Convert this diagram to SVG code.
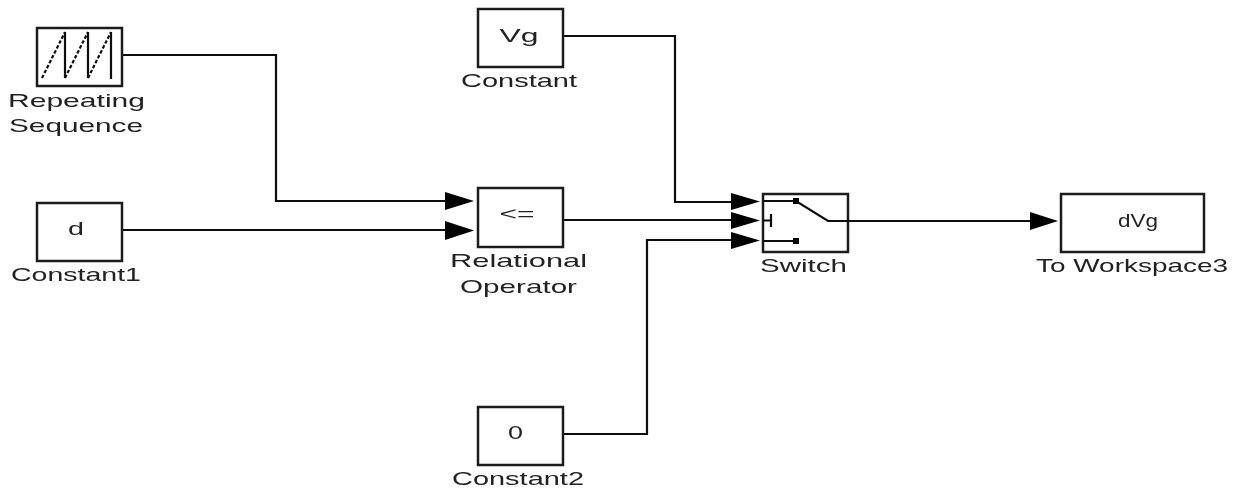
<svg xmlns="http://www.w3.org/2000/svg" width="1258" height="488" viewBox="0 0 1258 488">
<defs><filter id="soft" filterUnits="userSpaceOnUse" x="0" y="0" width="1258" height="488"><feGaussianBlur stdDeviation="0.45"/></filter></defs>
<style>
.b{fill:#fff;stroke:#1a1a1a;stroke-width:2.500}
.w{fill:none;stroke:#111;stroke-width:2.200}
.h{fill:#000;stroke:none}
text{font-family:"Liberation Sans",Arial,sans-serif;font-size:19px;fill:#222;text-anchor:middle}
.s{fill:none;stroke:#111;stroke-width:2.200}
</style>
<rect width="1258" height="488" fill="#fff"/>
<g filter="url(#soft)">
<g id="connectors">
<path class="w" d="M120 55H276V201H450"/>
<path class="w" d="M120 230H450"/>
<path class="w" d="M562 36H675V202H735"/>
<path class="w" d="M562 220H735"/>
<path class="w" d="M562 434H647V240H735"/>
<path class="w" d="M849 221H1035"/>
<path class="h" d="M445 192L474 201L445 210Z"/>
<path class="h" d="M445 221L474 230.500L445 240Z"/>
<path class="h" d="M731 193L760 201.500L731 210Z"/>
<path class="h" d="M731 212L760 220.500L731 229Z"/>
<path class="h" d="M731 232L760 240.500L731 249Z"/>
<path class="h" d="M1030 212L1058 221L1030 230Z"/>
</g>
<g id="repeating-sequence">
<rect class="b" x="37" y="28" width="85" height="58"/>
<path class="s" stroke-width="2.500" stroke-dasharray="3.500 2" d="M42 78L65 32M65 78L88 32M88 78L111 32"/>
<path class="s" d="M65 32V78M88 32V78M111 32V79"/>
<text x="76.500" y="107" textLength="137" lengthAdjust="spacingAndGlyphs">Repeating</text>
<text x="76" y="132" textLength="134" lengthAdjust="spacingAndGlyphs">Sequence</text>
</g>
<g id="constant1">
<rect class="b" x="37" y="203" width="85" height="58"/>
<text x="76" y="235" textLength="16" lengthAdjust="spacingAndGlyphs">d</text>
<text x="76" y="281" textLength="130" lengthAdjust="spacingAndGlyphs">Constant1</text>
</g>
<g id="constant">
<rect class="b" x="478" y="9" width="85" height="58"/>
<text x="519" y="42" textLength="39" lengthAdjust="spacingAndGlyphs">Vg</text>
<text x="519" y="87" textLength="116" lengthAdjust="spacingAndGlyphs">Constant</text>
</g>
<g id="relational-operator">
<rect class="b" x="478" y="188" width="85" height="59"/>
<text x="517" y="220" textLength="35" lengthAdjust="spacingAndGlyphs">&lt;=</text>
<text x="518.500" y="267" textLength="137" lengthAdjust="spacingAndGlyphs">Relational</text>
<text x="518.500" y="293" textLength="117" lengthAdjust="spacingAndGlyphs">Operator</text>
</g>
<g id="constant2">
<rect class="b" x="478" y="407" width="85" height="58"/>
<text x="515.500" y="439" textLength="15" lengthAdjust="spacingAndGlyphs">0</text>
<text x="518" y="485" textLength="132" lengthAdjust="spacingAndGlyphs">Constant2</text>
</g>
<g id="switch">
<rect class="b" x="763" y="194" width="85" height="58"/>
<path class="s" d="M763 201H796L828 221H849"/>
<path class="s" d="M763 241H796"/>
<path class="s" d="M763 220.500H771M771 214V227"/>
<rect class="h" x="793" y="198" width="6" height="6"/>
<rect class="h" x="793" y="238" width="6" height="6"/>
<text x="803.500" y="272" textLength="87" lengthAdjust="spacingAndGlyphs">Switch</text>
</g>
<g id="to-workspace3">
<rect class="b" x="1061" y="194" width="143" height="58"/>
<text x="1138" y="227" textLength="40" lengthAdjust="spacingAndGlyphs">dVg</text>
<text x="1132" y="272" textLength="192" lengthAdjust="spacingAndGlyphs">To Workspace3</text>
</g>
</g>
</svg>
